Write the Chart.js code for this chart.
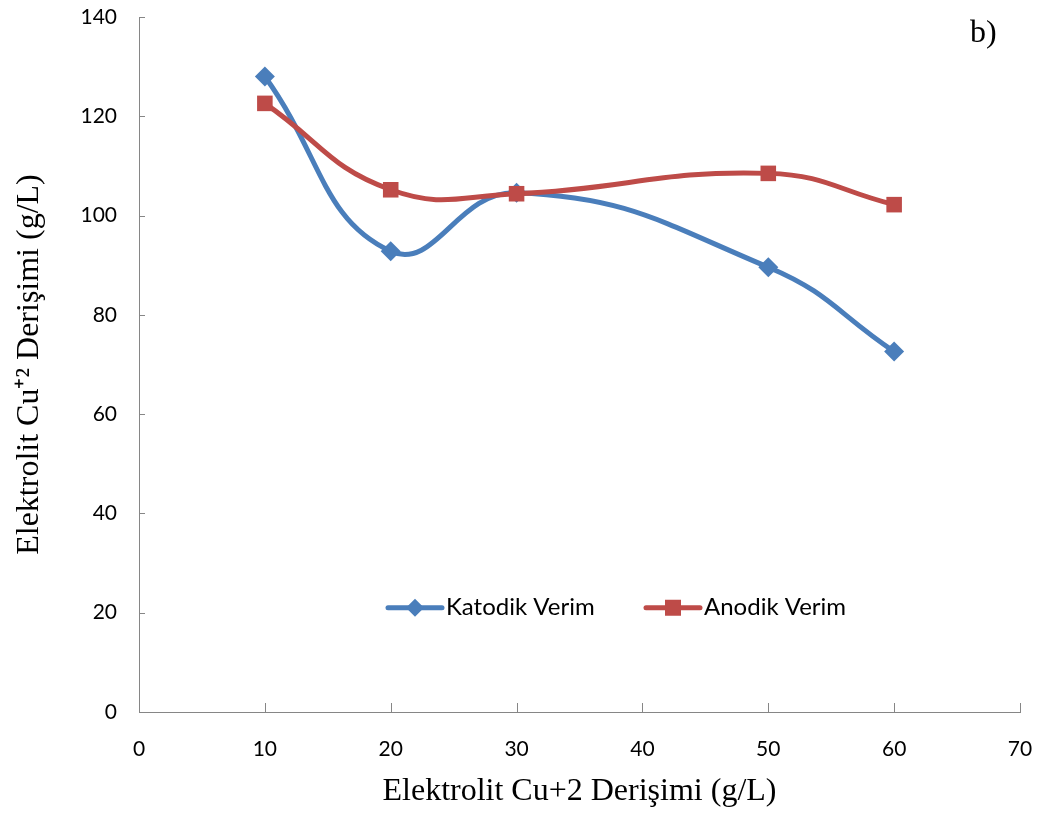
<!DOCTYPE html>
<html lang="tr">
<head>
    <meta charset="UTF-8">
    <title>Elektrolit Cu+2 Derişimi</title>
    <script src="https://cdn.jsdelivr.net/npm/chart.js"></script>
    <style>
        body { margin: 0; background: #ffffff; }
        #chart-container { width: 1046px; height: 815px; }
    </style>
</head>
<body>
    <div id="chart-container">
        <canvas id="chart"></canvas>
    </div>

    <script>
        const concentrations = [10, 20, 30, 50, 60];
        const katodikVerim = [128.0, 92.8, 104.6, 89.6, 72.6];
        const anodikVerim = [122.6, 105.2, 104.4, 108.5, 102.2];
        const xTicks = [0, 10, 20, 30, 40, 50, 60, 70];
        const yTicks = [0, 20, 40, 60, 80, 100, 120, 140];

        const axisGray = '#868686';

        // inward tick marks, the in-plot legend and the "b)" label
        const extras = {
            id: 'extras',
            afterDraw(chart) {
                const c = chart.ctx;
                const x = chart.scales.x, y = chart.scales.y;
                c.save();
                c.strokeStyle = axisGray;
                c.lineWidth = 1;
                xTicks.forEach(v => {
                    const px = Math.round(x.getPixelForValue(v)) + 0.5;
                    c.beginPath();
                    c.moveTo(px, y.bottom);
                    c.lineTo(px, y.bottom - 9);
                    c.stroke();
                });
                yTicks.forEach(v => {
                    const py = Math.round(y.getPixelForValue(v)) + 0.5;
                    c.beginPath();
                    c.moveTo(x.left, py);
                    c.lineTo(x.left + 6, py);
                    c.stroke();
                });

                // legend
                const legendY = y.getPixelForValue(21);
                const items = [
                    { ds: chart.data.datasets[0], x0: 388 },
                    { ds: chart.data.datasets[1], x0: 646 }
                ];
                c.font = '24px Lato, "Open Sans", sans-serif';
                c.textBaseline = 'middle';
                items.forEach(it => {
                    c.strokeStyle = it.ds.borderColor;
                    c.lineWidth = 5;
                    c.lineCap = 'round';
                    c.beginPath();
                    c.moveTo(it.x0, legendY);
                    c.lineTo(it.x0 + 54, legendY);
                    c.stroke();
                    c.fillStyle = it.ds.borderColor;
                    const mx = it.x0 + 27;
                    if (it.ds.pointStyle === 'rectRot') {
                        c.beginPath();
                        c.moveTo(mx, legendY - 9);
                        c.lineTo(mx + 9, legendY);
                        c.lineTo(mx, legendY + 9);
                        c.lineTo(mx - 9, legendY);
                        c.closePath();
                        c.fill();
                    } else {
                        c.fillRect(mx - 8, legendY - 8, 16, 16);
                    }
                    c.fillStyle = '#000000';
                    c.textAlign = 'left';
                    c.fillText(it.ds.label, it.x0 + 58, legendY);
                });

                c.font = '32px "Liberation Serif", serif';
                c.textAlign = 'left';
                c.textBaseline = 'alphabetic';
                c.fillStyle = '#000000';
                c.fillText('b)', 970, 42);
                c.restore();
            }
        };

        new Chart(document.getElementById('chart').getContext('2d'), {
            type: 'line',
            data: {
                datasets: [{
                    label: 'Katodik Verim',
                    data: concentrations.map((v, i) => ({ x: v, y: katodikVerim[i] })),
                    borderColor: '#4A7EBB',
                    backgroundColor: '#4A7EBB',
                    borderWidth: 5,
                    pointStyle: 'rectRot',
                    pointRadius: 10,
                    pointBorderWidth: 0,
                    tension: 0.45,
                    order: 1
                }, {
                    label: 'Anodik Verim',
                    data: concentrations.map((v, i) => ({ x: v, y: anodikVerim[i] })),
                    borderColor: '#BE4B48',
                    backgroundColor: '#BE4B48',
                    borderWidth: 5,
                    pointStyle: 'rect',
                    pointRadius: 11,
                    pointBorderWidth: 0,
                    tension: 0.45,
                    order: 0
                }]
            },
            options: {
                responsive: true,
                maintainAspectRatio: false,
                animation: false,
                layout: { padding: { top: 17, right: 26, left: 0, bottom: 0 } },
                plugins: {
                    legend: { display: false },
                    tooltip: { enabled: false }
                },
                scales: {
                    x: {
                        type: 'linear',
                        min: 0, max: 70,
                        afterBuildTicks: s => { s.ticks = xTicks.map(v => ({ value: v })); },
                        afterFit: s => { s.height = 103; s.paddingLeft = 0; s.paddingRight = 0; },
                        grid: { display: false, drawTicks: false },
                        border: { color: axisGray, width: 1 },
                        ticks: {
                            padding: 25,
                            color: '#000000',
                            font: { family: 'Lato, "Open Sans", sans-serif', size: 21 }
                        },
                        title: {
                            display: true,
                            text: 'Elektrolit Cu+2 Derişimi (g/L)',
                            color: '#000000',
                            font: { family: '"Liberation Serif", serif', size: 32 },
                            padding: { top: 9 }
                        }
                    },
                    y: {
                        min: 0, max: 140,
                        afterBuildTicks: s => { s.ticks = yTicks.map(v => ({ value: v })); },
                        afterFit: s => { s.width = 139; s.paddingTop = 0; s.paddingBottom = 0; },
                        grid: { display: false, drawTicks: false },
                        border: { color: axisGray, width: 1 },
                        ticks: {
                            padding: 22,
                            color: '#000000',
                            font: { family: 'Lato, "Open Sans", sans-serif', size: 21 }
                        },
                        title: {
                            display: true,
                            text: 'Elektrolit Cu⁺² Derişimi (g/L)',
                            color: '#000000',
                            font: { family: '"Liberation Serif", serif', size: 32 },
                            padding: { top: 10, bottom: 0 }
                        }
                    }
                }
            },
            plugins: [extras]
        });
    </script>
</body>
</html>
